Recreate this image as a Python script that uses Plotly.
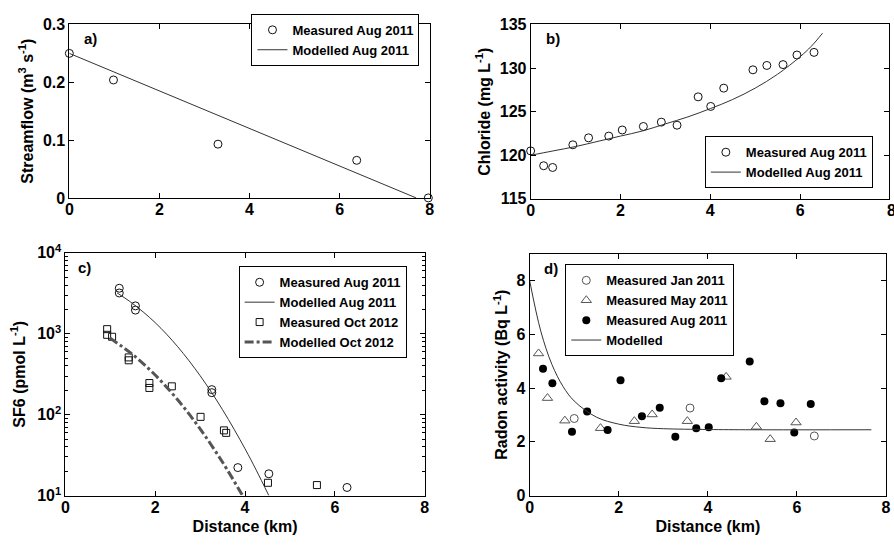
import plotly.graph_objects as go

W, H = 894, 547

# ---- a) streamflow ----
flow_dist = [0.0, 0.98, 3.30, 6.38, 7.97]
flow_meas = [0.250, 0.204, 0.093, 0.065, 0.0]
flow_model_dist = [0.0, 7.70]
flow_model = [0.250, 0.0]

# ---- b) chloride ----
cl_dist = [0.0, 0.29, 0.49, 0.94, 1.29, 1.74, 2.04, 2.51, 2.91, 3.26, 3.73,
           4.01, 4.30, 4.95, 5.26, 5.62, 5.93, 6.31]
cl_meas = [120.5, 118.8, 118.6, 121.2, 122.0, 122.2, 122.9, 123.3, 123.8,
           123.45, 126.7, 125.6, 127.7, 129.8, 130.3, 130.4, 131.5, 131.8]
cl_model_dist = [0.0, 0.5, 1.0, 1.5, 2.0, 2.5, 3.0, 3.5, 4.0, 4.5, 5.0, 5.5,
                 6.0, 6.25, 6.5]
cl_model = [120.0, 120.5, 121.0, 121.6, 122.2, 122.8, 123.6, 124.4, 125.35,
            126.4, 127.7, 129.3, 131.3, 132.5, 134.0]

# ---- c) SF6 ----
sf6_aug_dist = [1.20, 1.20, 1.56, 1.56, 3.26, 3.26, 3.84, 4.53, 6.27]
sf6_aug = [3650, 3190, 2210, 1960, 204, 187, 22.2, 18.6, 12.6]
sf6_oct_dist = [0.93, 0.93, 1.04, 1.41, 1.41, 1.87, 1.87, 2.37, 3.01, 3.53,
                3.58, 4.51, 5.60]
sf6_oct = [1140, 970, 918, 510, 470, 246, 214, 224, 94, 64, 59.6, 14.4, 13.5]
sf6_aug_model_dist = [1.15, 1.5, 2.0, 2.5, 3.0, 3.5, 4.0, 4.25, 4.53]
sf6_aug_model = [3200, 2355, 1371, 692, 303, 115, 37.9, 20.6, 10.0]
sf6_oct_model_dist = [0.99, 1.5, 2.0, 2.5, 3.0, 3.5, 3.946]
sf6_oct_model = [885, 553, 309, 152.6, 66.8, 25.8, 10.0]

# ---- d) radon ----
rn_jan_dist = [1.00, 3.60, 6.39]
rn_jan = [2.87, 3.26, 2.22]
rn_may_dist = [0.20, 0.40, 0.79, 1.59, 2.35, 2.75, 3.54, 4.41, 5.09, 5.40, 5.98]
rn_may = [5.29, 3.63, 2.79, 2.51, 2.77, 3.02, 2.77, 4.42, 2.56, 2.10, 2.72]
rn_aug_dist = [0.30, 0.51, 0.95, 1.29, 1.75, 2.04, 2.52, 2.92, 3.27, 3.74,
               4.02, 4.30, 4.94, 5.27, 5.63, 5.94, 6.31]
rn_aug = [4.72, 4.18, 2.38, 3.13, 2.44, 4.29, 2.95, 3.27, 2.19, 2.51, 2.54,
          4.37, 4.99, 3.51, 3.44, 2.35, 3.41]
rn_model_dist = [0.0, 0.25, 0.5, 0.75, 1.0, 1.5, 2.0, 2.5, 3.0, 4.0, 5.0, 7.67]
rn_model = [8.0, 6.12, 4.88, 4.06, 3.52, 2.92, 2.66, 2.54, 2.49, 2.46, 2.45, 2.45]

FONT = "Liberation Sans, Arial, Helvetica, sans-serif"
MODEL_GREY = "#333333"
OPEN_GREY = "#555555"


def px(x0, x1, y0, y1):
    """Pixel box -> paper domains."""
    return [x0 / W, x1 / W], [1 - y1 / H, 1 - y0 / H]


def markers(x, y, name, xa, ya, leg, symbol, size, color, width=1):
    return go.Scatter(x=x, y=y, mode="markers", name=name, cliponaxis=False,
                      marker=dict(symbol=symbol, size=size, color=color, line=dict(width=width)),
                      xaxis=xa, yaxis=ya, legend=leg)


def model(x, y, name, xa, ya, leg, **line):
    style = dict(color=MODEL_GREY, width=1, shape="spline")
    style.update(line)
    return go.Scatter(x=x, y=y, mode="lines", name=name, line=style,
                      xaxis=xa, yaxis=ya, legend=leg)


fig = go.Figure()

# a)
fig.add_trace(markers(flow_dist, flow_meas, "Measured Aug 2011", "x", "y", "legend",
                      "circle-open", 8, "#111111"))
fig.add_trace(model(flow_model_dist, flow_model, "Modelled Aug 2011", "x", "y", "legend"))
# b)
fig.add_trace(markers(cl_dist, cl_meas, "Measured Aug 2011", "x2", "y2", "legend2",
                      "circle-open", 8, "#111111"))
fig.add_trace(model(cl_model_dist, cl_model, "Modelled Aug 2011", "x2", "y2", "legend2"))
# c)
fig.add_trace(markers(sf6_aug_dist, sf6_aug, "Measured Aug 2011", "x3", "y3", "legend3",
                      "circle-open", 8, "#111111"))
fig.add_trace(model(sf6_aug_model_dist, sf6_aug_model, "Modelled Aug 2011", "x3", "y3", "legend3"))
fig.add_trace(markers(sf6_oct_dist, sf6_oct, "Measured Oct 2012", "x3", "y3", "legend3",
                      "square-open", 7, "#111111"))
fig.add_trace(model(sf6_oct_model_dist, sf6_oct_model, "Modelled Oct 2012", "x3", "y3", "legend3",
                    color="#555555", width=3, dash="dashdot"))
# d)
fig.add_trace(markers(rn_jan_dist, rn_jan, "Measured Jan 2011", "x4", "y4", "legend4",
                      "circle-open", 8, OPEN_GREY))
fig.add_trace(markers(rn_may_dist, rn_may, "Measured May 2011", "x4", "y4", "legend4",
                      "triangle-up-open", 9, OPEN_GREY))
fig.add_trace(markers(rn_aug_dist, rn_aug, "Measured Aug 2011", "x4", "y4", "legend4",
                      "circle", 8, "#000000", width=0))
fig.add_trace(model(rn_model_dist, rn_model, "Modelled", "x4", "y4", "legend4"))

axis_common = dict(showline=True, linecolor="black", linewidth=1, mirror="ticks",
                   ticks="inside", ticklen=5, tickcolor="black", showgrid=False,
                   zeroline=False, tickfont=dict(size=16, color="black"))
x_common = dict(axis_common, ticklabelstandoff=-3)
title_font = dict(size=16, color="black")

dxa, dya = px(66, 430, 14, 194)
dxb, dyb = px(532, 894, 14, 195)
dxc, dyc = px(62, 425, 251, 503)
dxd, dyd = px(531, 891, 252, 503)

fig.update_layout(
    xaxis=dict(domain=dxa, range=[0, 8], tickvals=[0, 2, 4, 6, 8], anchor="y", **x_common),
    yaxis=dict(domain=dya, range=[0, 0.3], tickvals=[0, 0.1, 0.2, 0.3], anchor="x",
               title=dict(text="Streamflow (m<sup>3</sup> s<sup>-1</sup>)", font=title_font, standoff=5),
               **axis_common),
    xaxis2=dict(domain=dxb, range=[0, 7.98], tickvals=[0, 2, 4, 6], anchor="y2", **x_common),
    yaxis2=dict(domain=dyb, range=[115, 135], tickvals=[115, 120, 125, 130, 135], anchor="x2",
                title=dict(text="Chloride (mg L<sup>-1</sup>)", font=title_font, standoff=5),
                **axis_common),
    xaxis3=dict(domain=dxc, range=[0, 8], tickvals=[0, 2, 4, 6, 8], anchor="y3",
                title=dict(text="Distance (km)", font=title_font, standoff=5), **x_common),
    yaxis3=dict(domain=dyc, type="log", range=[1, 4], anchor="x3",
                tickvals=[10, 100, 1000, 10000],
                ticktext=["10<sup>1</sup>", "10<sup>2</sup>", "10<sup>3</sup>", "10<sup>4</sup>"],
                minor=dict(ticks="inside", ticklen=3, tickcolor="black",
                           tickvals=[m * 10 ** k for k in (1, 2, 3) for m in range(2, 10)]),
                title=dict(text="SF6 (pmol L<sup>-1</sup>)", font=title_font, standoff=7),
                **axis_common),
    xaxis4=dict(domain=dxd, range=[0, 8], tickvals=[0, 2, 4, 6, 8], anchor="y4",
                title=dict(text="Distance (km)", font=title_font, standoff=5), **x_common),
    yaxis4=dict(domain=dyd, range=[0, 9], tickvals=[0, 2, 4, 6, 8], anchor="x4",
                title=dict(text="Radon activity (Bq L<sup>-1</sup>)", font=title_font, standoff=4),
                **axis_common),
)

leg_common = dict(xanchor="left", yanchor="top", bordercolor="black", borderwidth=1,
                  bgcolor="white", font=dict(size=13, color="black"), tracegroupgap=0,
                  itemwidth=30)
fig.update_layout(
    legend=dict(x=250 / W, y=1 - 3 / H, **leg_common),
    legend2=dict(x=708 / W, y=1 - 130 / H, **leg_common),
    legend3=dict(x=237 / W, y=1 - 265 / H, **leg_common),
    legend4=dict(x=567 / W, y=1 - 263 / H, **leg_common),
)

# panel letters
for letter, (xp, yp) in {"a)": (79, 18), "b)": (545, 18), "c)": (73, 255), "d)": (543, 256)}.items():
    fig.add_annotation(text=letter, xref="paper", yref="paper", x=xp / W, y=1 - yp / H,
                       xanchor="left", yanchor="top", showarrow=False,
                       font=dict(size=15, color="black"))

# the last distance label of panel b sits on the page edge
fig.add_annotation(text="8", xref="paper", yref="paper", x=890 / W, y=1 - 196 / H,
                   xanchor="left", yanchor="top", showarrow=False,
                   font=dict(size=16, color="black"))

fig.update_layout(
    width=W, height=H, margin=dict(l=0, r=0, t=0, b=0),
    paper_bgcolor="white", plot_bgcolor="white",
    font=dict(family=FONT, weight="bold", color="black"),
    showlegend=True,
)

fig.write_html("out.html")
